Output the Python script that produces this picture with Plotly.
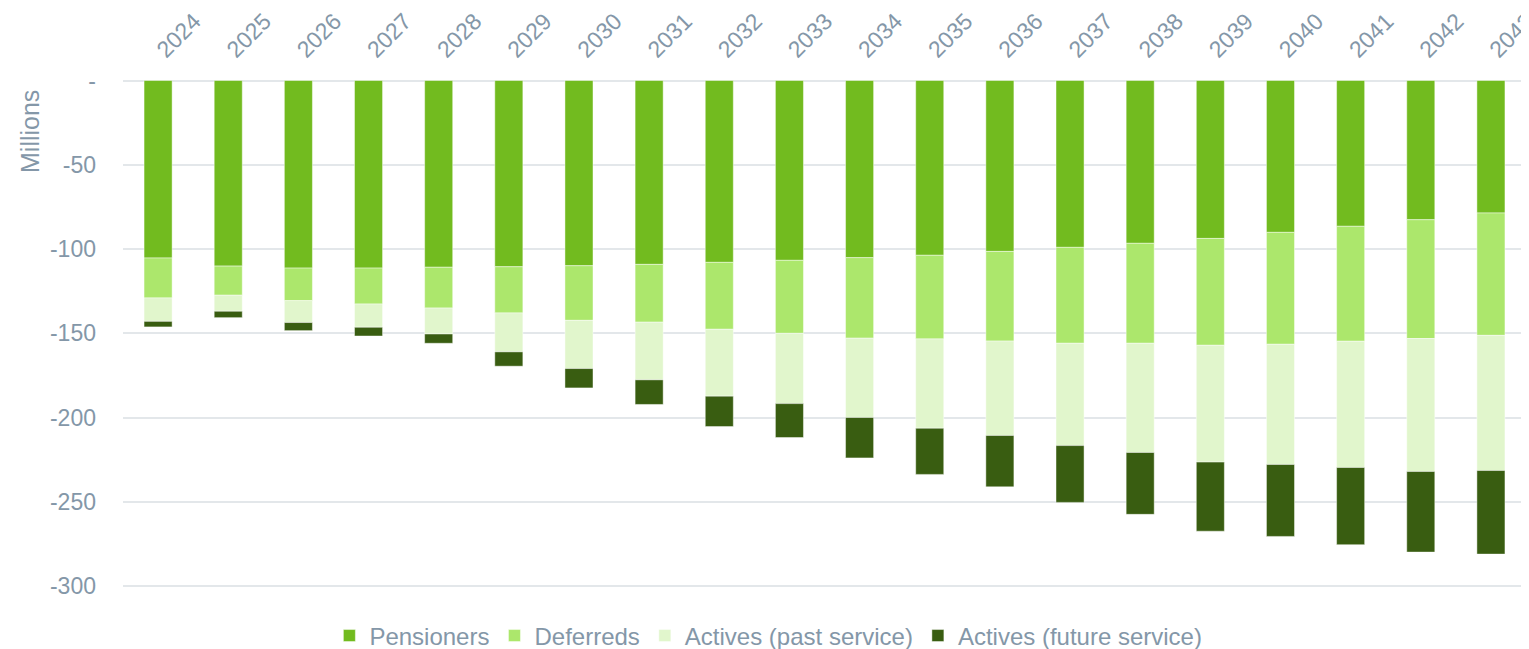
import plotly.graph_objects as go

years = [str(y) for y in range(2024, 2044)]
pensioners = [105.3, 110.1, 111.3, 111.3, 110.8, 110.5, 109.9, 109.1, 107.9, 106.7,
              105.1, 103.7, 101.4, 99.0, 96.6, 93.7, 90.1, 86.5, 82.6, 78.6]
deferreds = [23.7, 17.3, 19.3, 21.3, 24.2, 27.4, 32.4, 34.3, 39.7, 43.3,
             47.8, 49.6, 53.2, 56.9, 59.3, 63.4, 66.4, 68.2, 70.5, 72.6]
actives_past = [13.9, 9.5, 13.0, 13.8, 15.4, 23.1, 28.6, 34.2, 39.7, 41.7,
                47.0, 53.0, 56.0, 60.7, 64.8, 69.3, 71.3, 74.9, 78.9, 80.2]
actives_future = [3.3, 3.8, 4.8, 5.2, 5.5, 8.5, 11.5, 14.6, 18.0, 20.1,
                  24.0, 27.4, 30.5, 33.7, 36.7, 41.0, 42.7, 45.8, 47.8, 49.6]

series = [
    ("Pensioners", pensioners, "#72BB1F"),
    ("Deferreds", deferreds, "#ACE76C"),
    ("Actives (past service)", actives_past, "#E1F6CC"),
    ("Actives (future service)", actives_future, "#395D11"),
]

ytick_vals = [0, -50, -100, -150, -200, -250, -300]
ytick_text = ["-", "-50", "-100", "-150", "-200", "-250", "-300"]

FONT = "Liberation Sans, Arial, sans-serif"
TXT = "#8497A8"
# page body adds an 8px offset; figure sized so the plot lands where the reference's does
OFF = 8
W, H = 1529 - OFF, 649 - OFF
ML, MR, MT, MB = 123 - OFF, 3, 80 - OFF, 46
PW, PH = W - ML - MR, H - MT - MB

fig = go.Figure()
for name, vals, col in series:
    fig.add_trace(go.Bar(
        x=years, y=[-v for v in vals], name=name,
        marker=dict(color=col, line=dict(color="rgba(255,255,255,0.45)", width=1)),
    ))

fig.add_annotation(
    text="Millions", textangle=-90, showarrow=False,
    xref="paper", yref="paper",
    x=(30 - 123) / PW, y=(649 - MB - 132) / PH, xanchor="center", yanchor="middle",
    font=dict(family=FONT, size=25, color=TXT),
)

fig.update_layout(
    width=W, height=H,
    barmode="relative", bargap=0.6,
    plot_bgcolor="white", paper_bgcolor="white",
    margin=dict(l=ML, r=MR, t=MT, b=MB, autoexpand=False),
    font=dict(family=FONT, size=23, color=TXT),
    legend=dict(orientation="h", x=0.46, xanchor="center", y=-0.063, yanchor="middle",
                font=dict(size=24, color=TXT), traceorder="normal", itemwidth=30),
    xaxis=dict(side="top", tickangle=-45, showgrid=False, showline=False, ticks="",
               automargin=False, ticklabelstandoff=12,
               tickfont=dict(size=23, color=TXT)),
    yaxis=dict(range=[-310, 0.3], tickvals=ytick_vals, ticktext=ytick_text,
               showgrid=True, gridcolor="#E3E7EA", gridwidth=1.5,
               zeroline=True, zerolinecolor="#E3E7EA", zerolinewidth=1.5,
               showline=False, ticks="", ticklabelstandoff=26, automargin=False,
               tickfont=dict(size=23, color=TXT)),
)

fig.write_html("out.html")
